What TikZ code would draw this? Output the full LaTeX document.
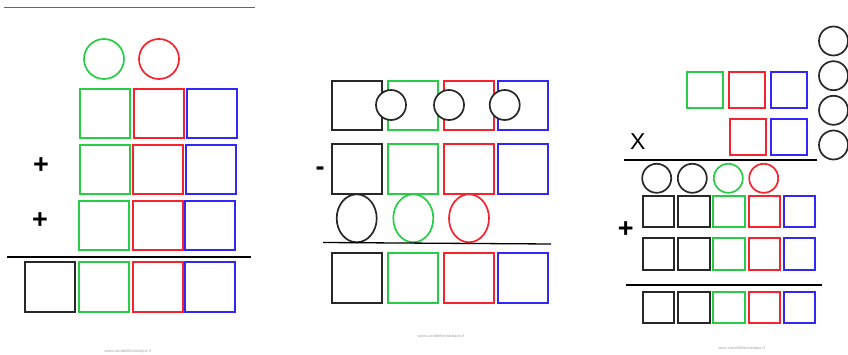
\documentclass[tikz,border=0pt]{standalone}
\usepackage{fontspec}
\setmainfont{Liberation Sans}
\definecolor{cg}{RGB}{40,205,70}
\definecolor{cr}{RGB}{245,35,45}
\definecolor{cb}{RGB}{50,40,245}
\definecolor{ck}{RGB}{40,40,40}
\begin{document}
\begin{tikzpicture}[x=1pt,y=-1pt,
  gb/.style={draw=cg,line width=1.7pt},
  rb/.style={draw=cr,line width=1.7pt},
  bb/.style={draw=cb,line width=1.7pt},
  kb/.style={draw=ck,line width=1.7pt},
  rule/.style={draw=black,line width=1.9pt},
  sign/.style={font=\fontsize{27}{27}\selectfont\bfseries,inner sep=0pt},
  wm/.style={font=\fontsize{4}{4}\selectfont,text=black!35,inner sep=0pt}]
\useasboundingbox (0,0) rectangle (848,355);
% ---------- panel 1 ----------
\draw[draw=black!60,line width=1pt] (4,7.3) -- (255,7.3);
\draw[gb] (104,59) circle (20);
\draw[rb] (159,59) circle (20);
\draw[gb] (80,89) rectangle (130,138);
\draw[rb] (134,89) rectangle (184,138);
\draw[bb] (187,89) rectangle (237,138);
\draw[gb] (80,145) rectangle (130,194);
\draw[rb] (133,145) rectangle (183,194);
\draw[bb] (186,145) rectangle (236,194);
\draw[gb] (79,201) rectangle (129,250);
\draw[rb] (133,201) rectangle (183,250);
\draw[bb] (185,201) rectangle (235,250);
\node[sign] (p1a) at (41,166) {+};
\node[sign] (p1b) at (40,221) {+};
\draw[rule] (7,257) -- (251,257);
\draw[kb] (25,262) rectangle (75,312);
\draw[gb] (79,262) rectangle (129,312);
\draw[rb] (133,262) rectangle (183,312);
\draw[bb] (185,262) rectangle (235,312);
\node[wm] (w1) at (128,351) {www.cartablefantastique.fr};
% ---------- panel 2 ----------
\foreach \ya/\yb in {80.7/130, 144.3/194, 253.3/303.3}{
  \draw[kb] (332,\ya) rectangle (382,\yb);
  \draw[gb] (388,\ya) rectangle (438,\yb);
  \draw[rb] (443.7,\ya) rectangle (493.7,\yb);
  \draw[bb] (497.7,\ya) rectangle (547.7,\yb);
}
\foreach \xc in {391,449,504.7}{
  \draw[kb,fill=white] (\xc,105) circle (15);
}
\node[sign] (m2) at (320,171) {-};
\draw[kb] (356.7,218.3) ellipse (20 and 24);
\draw[gb] (413.3,218.3) ellipse (20 and 24);
\draw[rb] (469,218.3) ellipse (20 and 24);
\draw[draw=black,line width=1.3pt] (323,242.5) -- (551,244);
\node[wm] (w2) at (441,336.7) {www.cartablefantastique.fr};
% ---------- panel 3 ----------
\foreach \yc in {41,75.7,110.3,145}{
  \draw[kb] (833.5,\yc) circle (14.5);
}
\draw[gb] (687.3,72.3) rectangle (723.3,108);
\draw[rb] (729,72.3) rectangle (765,108);
\draw[bb] (770.7,72.3) rectangle (806.7,108);
\draw[rb] (730.3,118.7) rectangle (766.3,154.7);
\draw[bb] (770.7,118.7) rectangle (806.7,154.7);
\node[font=\fontsize{23}{23}\selectfont,inner sep=0pt] (x3) at (637.7,141.7) {X};
\draw[rule] (624,160) -- (816.7,160);
\draw[kb] (656.7,178.3) circle (14.5);
\draw[kb] (692.3,178.3) circle (14.5);
\draw[gb] (728.3,178.3) circle (14.5);
\draw[rb] (763.7,178.3) circle (14.5);
\foreach \ya/\yb in {196/227.3, 238.3/269.7, 291.7/323.3}{
  \draw[kb] (642.7,\ya) rectangle (674,\yb);
  \draw[kb] (678.3,\ya) rectangle (709.7,\yb);
  \draw[gb] (713.3,\ya) rectangle (744.7,\yb);
  \draw[rb] (748.7,\ya) rectangle (780,\yb);
  \draw[bb] (783.7,\ya) rectangle (815.3,\yb);
}
\node[sign] (p3) at (625.7,230) {+};
\draw[rule] (626,285) -- (822.3,285);
\node[wm] (w3) at (741.7,348.3) {www.cartablefantastique.fr};
\end{tikzpicture}
\end{document}
